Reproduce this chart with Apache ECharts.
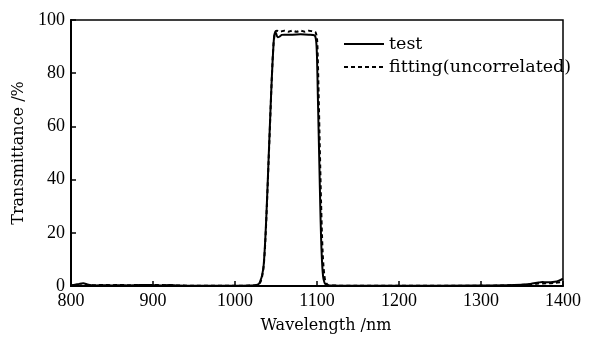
<!DOCTYPE html>
<html>
<head>
<meta charset="utf-8">
<script src="https://cdn.jsdelivr.net/npm/echarts@6/dist/echarts.min.js"></script>
<style>
  html, body { margin: 0; padding: 0; background: #fff; }
  #chart { width: 599px; height: 339px; }
</style>
</head>
<body>
<div id="chart"></div>
<script>
  // measured transmittance (test)
  var testWl = [800, 805, 810, 815, 820, 825, 830, 840, 850, 860, 870, 880, 890, 900, 910, 920, 930, 950, 1000, 1020,
    1025, 1029, 1031, 1033, 1035, 1037, 1039, 1041, 1043, 1045, 1047, 1048, 1049, 1050, 1052, 1054, 1057, 1060, 1070,
    1080, 1090, 1097, 1099, 1100, 1101, 1102, 1103, 1104, 1105, 1106, 1107, 1108, 1110, 1114, 1150, 1200, 1300, 1340,
    1360, 1370, 1375, 1380, 1390, 1395, 1400]
  var testT = [0.3, 0.5, 0.8, 1.0, 0.6, 0.3, 0.2, 0.3, 0.2, 0.3, 0.2, 0.3, 0.4, 0.3, 0.2, 0.4, 0.2, 0.1, 0.1, 0.2,
    0.3, 0.8, 2, 4, 8, 18, 32, 48, 64, 79, 91, 94.5, 95.3, 95, 93.5, 93.7, 94.4, 94.5, 94.5,
    94.6, 94.5, 94.2, 92, 86, 72, 58, 44, 30, 18, 10, 5, 2.5, 0.8, 0.2, 0.1, 0.1, 0.2, 0.4,
    0.8, 1.3, 1.5, 1.4, 1.6, 2.0, 2.8]

  // fitted curve (uncorrelated)
  var fitWl = [800, 820, 830, 840, 850, 860, 870, 880, 890, 900, 950, 1000, 1020, 1028, 1031, 1033, 1035, 1037, 1039,
    1041, 1043, 1045, 1047, 1049, 1051, 1055, 1060, 1065, 1070, 1075, 1080, 1085, 1090, 1095, 1098, 1100, 1101, 1102,
    1103, 1104, 1105, 1106, 1107, 1108, 1109, 1110, 1112, 1115, 1150, 1200, 1300, 1340, 1360, 1370, 1380, 1390, 1400]
  var fitT = [0.1, 0.2, 0.3, 0.4, 0.3, 0.4, 0.3, 0.4, 0.3, 0.4, 0.1, 0.1, 0.2, 0.5, 1.5, 3.5, 7.5, 17, 31,
    47, 63, 79, 91, 95.5, 96, 95.6, 96, 95.6, 96, 95.6, 96, 95.6, 96, 95.7, 95.5, 93, 85, 72,
    58, 44, 31, 20, 12, 7, 4, 2, 0.8, 0.2, 0.1, 0.1, 0.1, 0.3, 0.6, 0.9, 1.0, 1.2, 1.6]

  var xTicks = [800, 900, 1000, 1100, 1200, 1300, 1400]
  var yTicks = [0, 20, 40, 60, 80, 100]

  function pairs(xs, ys) {
    return xs.map(function (x, i) { return [x, ys[i]] })
  }

  var tickFont = 'Liberation Serif'
  var textFont = 'DejaVu Serif'
  var myChart = echarts.init(document.getElementById('chart'), null, {renderer: 'canvas'})

  var option = {
    animation: false,
    grid: {
      left: 71,
      right: 36,
      top: 20,
      bottom: 53,
      show: true,
      borderColor: '#000',
      borderWidth: 1.5
    },
    textStyle: {
      fontFamily: textFont,
      color: '#000'
    },
    legend: {
      orient: 'vertical',
      left: 338,
      top: 30,
      itemWidth: 40,
      itemHeight: 14,
      itemGap: 5,
      itemStyle: {color: 'transparent', borderWidth: 0, opacity: 0},
      textStyle: {
        fontFamily: textFont,
        fontSize: 17.5,
        color: '#000'
      },
      data: ['test', 'fitting(uncorrelated)']
    },
    xAxis: {
      type: 'value',
      min: xTicks[0],
      max: xTicks[xTicks.length - 1],
      interval: 100,
      name: 'Wavelength /nm',
      nameLocation: 'middle',
      nameGap: 32,
      nameTextStyle: {fontFamily: textFont, fontSize: 16, color: '#000', padding: [0, 0, 0, 18]},
      axisLine: {lineStyle: {color: '#000', width: 2}},
      axisTick: {inside: true, length: 5, lineStyle: {color: '#000', width: 1.5}},
      axisLabel: {
        fontFamily: tickFont, fontSize: 18, color: '#000', margin: 6,
        formatter: function (v) { return String(v) }
      },
      splitLine: {show: false}
    },
    yAxis: {
      type: 'value',
      min: yTicks[0],
      max: yTicks[yTicks.length - 1],
      interval: 20,
      name: 'Transmittance /%',
      nameLocation: 'middle',
      nameGap: 42,
      nameTextStyle: {fontFamily: textFont, fontSize: 16, color: '#000'},
      axisLine: {show: true, lineStyle: {color: '#000', width: 2}},
      axisTick: {show: true, inside: true, length: 5, lineStyle: {color: '#000', width: 1.5}},
      axisLabel: {fontFamily: tickFont, fontSize: 18, color: '#000', margin: 6},
      splitLine: {show: false}
    },
    series: [
      {
        name: 'test',
        type: 'line',
        symbol: 'none',
        smooth: 0.3,
        lineStyle: {color: '#000', width: 2},
        itemStyle: {color: '#000'},
        data: pairs(testWl, testT)
      },
      {
        name: 'fitting(uncorrelated)',
        type: 'line',
        symbol: 'none',
        smooth: 0.3,
        lineStyle: {color: '#000', width: 2, type: [4, 3]},
        itemStyle: {color: '#000'},
        data: pairs(fitWl, fitT)
      }
    ]
  }

  myChart.setOption(option, true)
</script>
</body>
</html>
